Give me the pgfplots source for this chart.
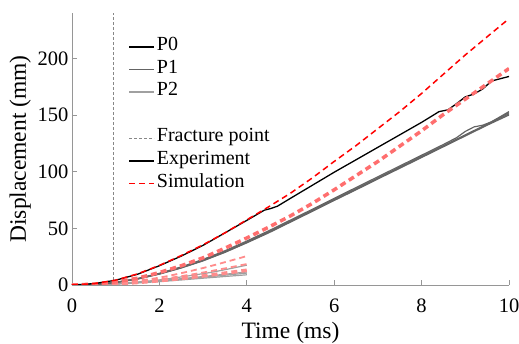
\documentclass[border=0pt]{standalone}
\usepackage{fontspec}
\setmainfont{Liberation Serif}
\usepackage{pgfplots}
\pgfplotsset{compat=1.18}
\definecolor{axgray}{RGB}{150,150,150}
\definecolor{pone}{RGB}{100,100,100}
\definecolor{ptwo}{RGB}{160,160,160}
\definecolor{simred}{RGB}{255,0,0}
\definecolor{simlight}{RGB}{255,110,110}
\definecolor{simlight2}{RGB}{255,140,140}
\definecolor{fracgray}{RGB}{135,135,135}
\begin{document}
\begin{tikzpicture}
\begin{axis}[
  at={(0,0)}, anchor=south west,
  scale only axis, width=437pt, height=272pt,
  xmin=0, xmax=10, ymin=0, ymax=240,
  axis x line=bottom, axis y line=left,
  axis line style={axgray, -, line width=0.8pt},
  xtick={0,2,4,6,8,10}, ytick={0,50,100,150,200},
  tick align=inside, major tick length=5pt,
  tick style={axgray, line width=0.8pt},
  ticklabel style={font=\fontsize{20.5}{24}\selectfont},
  xticklabel style={yshift=-10pt},
  /pgf/number format/assume math mode=true,
  xlabel={Time (ms)}, ylabel={Displacement (mm)},
  label style={font=\fontsize{23.5}{28}\selectfont},
  xlabel style={yshift=-3pt},
  legend cell align=left,
  legend image code/.code={\draw[#1] (0pt,0pt) -- (25pt,0pt);},
  legend style={draw=none, fill=none, inner sep=0pt,
    at={(axis description cs:0.128,0.919)}, anchor=north west,
    font=\fontsize{20}{22}\selectfont,
    nodes={inner xsep=2pt, inner ysep=0pt, text height=15pt, text depth=7.8pt},
    row sep=0pt},
]
% legend
\addlegendimage{black, line width=1.8pt}\addlegendentry{P0}
\addlegendimage{pone, line width=1.8pt}\addlegendentry{P1}
\addlegendimage{ptwo, line width=1.8pt}\addlegendentry{P2}
\addlegendimage{empty legend}\addlegendentry{}
\addlegendimage{fracgray, line width=0.6pt, dash pattern=on 3pt off 2pt}\addlegendentry{Fracture point}
\addlegendimage{black, line width=1.8pt}\addlegendentry{Experiment}
\addlegendimage{simred, line width=1.8pt, dash pattern=on 6pt off 4pt}\addlegendentry{Simulation}

% fracture point
\addplot[forget plot, fracgray, line width=0.6pt, dash pattern=on 3pt off 2pt] coordinates {(0.94,0) (0.94,240)};

% P2 experiments
\addplot[forget plot, ptwo, line width=1.2pt, smooth] coordinates {(0,0) (1,0.8) (2,3) (3,6) (4,9)};
\addplot[forget plot, ptwo, line width=1.2pt, smooth] coordinates {(0,0) (1,1) (2,3.5) (3,6.8) (4,10.5)};
\addplot[forget plot, ptwo, line width=1.2pt, smooth] coordinates {(0,0) (1,1.1) (2,3.8) (3,7.5) (4,11.5)};
\addplot[forget plot, ptwo, line width=1.2pt, smooth] coordinates {(0,0) (1,1.2) (2,4.5) (3,10) (3.5,13.5) (4,17.5)};

% P1 experiments
\addplot[forget plot, pone, line width=1.2pt] coordinates {(0,0) (0.5,0.6) (1,2.3) (1.5,5.5) (2,10) (2.5,15.5) (3,22) (3.5,29.5) (4,38) (4.5,47) (5,56.5) (5.5,66) (6,75.5) (6.5,85) (7,94.5) (7.5,104) (8,113.5) (8.5,123) (9,132.5) (9.5,142) (10,152)};
\addplot[forget plot, pone, line width=1.2pt] coordinates {(0,0) (0.5,0.5) (1,2.1) (1.5,5.2) (2,9.6) (2.5,15) (3,21.3) (3.5,28.8) (4,37.2) (4.5,46) (5,55.5) (5.5,65) (6,74.6) (6.5,84) (7,93.6) (7.5,103) (8,112.5) (8.5,122) (9,131.5) (9.5,141) (10,150)};
\addplot[forget plot, pone, line width=1.2pt] coordinates {(0,0) (0.5,0.6) (1,2.4) (1.5,5.7) (2,10.3) (2.5,16) (3,22.6) (3.5,30.2) (4,38.8) (4.5,47.8) (5,57.3) (5.5,66.8) (6,76.4) (6.5,86) (7,95.5) (7.5,105) (8,114.5) (8.5,124) (8.8,130) (9.0,135.5) (9.2,139.5) (9.4,141) (9.6,144) (9.8,148.5) (10,153)};
\addplot[forget plot, pone, line width=1.2pt] coordinates {(0,0) (0.5,0.5) (1,2.2) (1.5,5.4) (2,9.8) (2.5,15.2) (3,21.6) (3.5,29) (4,37.5) (4.5,46.5) (5,56) (5.5,65.5) (6,75) (6.5,84.5) (7,94) (7.5,103.5) (8,113) (8.5,122.5) (9,132) (9.5,141.5) (10,151)};

% P0 experiment
\addplot[forget plot, black, line width=1.3pt] coordinates {(0,0) (0.5,1.2) (1,4.2) (1.5,9.5) (2,17) (2.5,25.5) (3,35) (3.5,46) (4,57) (4.4,66) (4.55,67.5) (4.7,69.5) (5,76.5) (5.5,88) (6,99.5) (6.5,110.5) (7,121.5) (7.5,132.5) (8,143.5) (8.4,153) (8.6,154.5) (8.8,160) (9.0,166) (9.2,168.5) (9.4,173) (9.6,180) (9.8,182) (10,184)};

% P2 simulations
\addplot[forget plot, simlight2, line width=1.8pt, dash pattern=on 6pt off 4pt, smooth] coordinates {(0,0) (1,1.7) (2,6.5) (3,15) (4,25.5)};
\addplot[forget plot, simlight2, line width=1.8pt, dash pattern=on 6pt off 4pt, smooth] coordinates {(0,0) (1,1.3) (2,5) (3,11) (4,18.5)};
\addplot[forget plot, simlight2, line width=3.5pt, dash pattern=on 6pt off 4pt, smooth] coordinates {(0,0) (1,1) (2,3.8) (3,8) (4,13)};

% P1 simulation
\addplot[forget plot, simlight, line width=3.5pt, dash pattern=on 6pt off 4pt] coordinates {(0,0) (0.5,0.7) (1,2.7) (1.5,6) (2,11) (2.5,17) (3,24) (3.5,32.5) (4,41.5) (4.5,51) (5,61) (5.5,72) (6,84) (6.5,96.5) (7,109) (7.5,122.5) (8,136) (8.5,150.5) (9,164) (9.5,177.5) (10,191)};

% P0 simulation
\addplot[forget plot, simred, line width=1.5pt, dash pattern=on 6pt off 4pt] coordinates {(0,0) (0.5,1.2) (1,4.3) (1.5,9.8) (2,17.3) (2.5,26) (3,35.5) (3.5,46) (4,57.5) (4.5,69) (5,81) (5.5,94.5) (6,109) (6.5,123) (7,138) (7.5,153) (8,169) (8.5,186) (9,203) (9.5,219) (10,235)};
\end{axis}
\pgfresetboundingbox
\path (-72pt,-59pt) rectangle (447pt,285pt);
\end{tikzpicture}
\end{document}
